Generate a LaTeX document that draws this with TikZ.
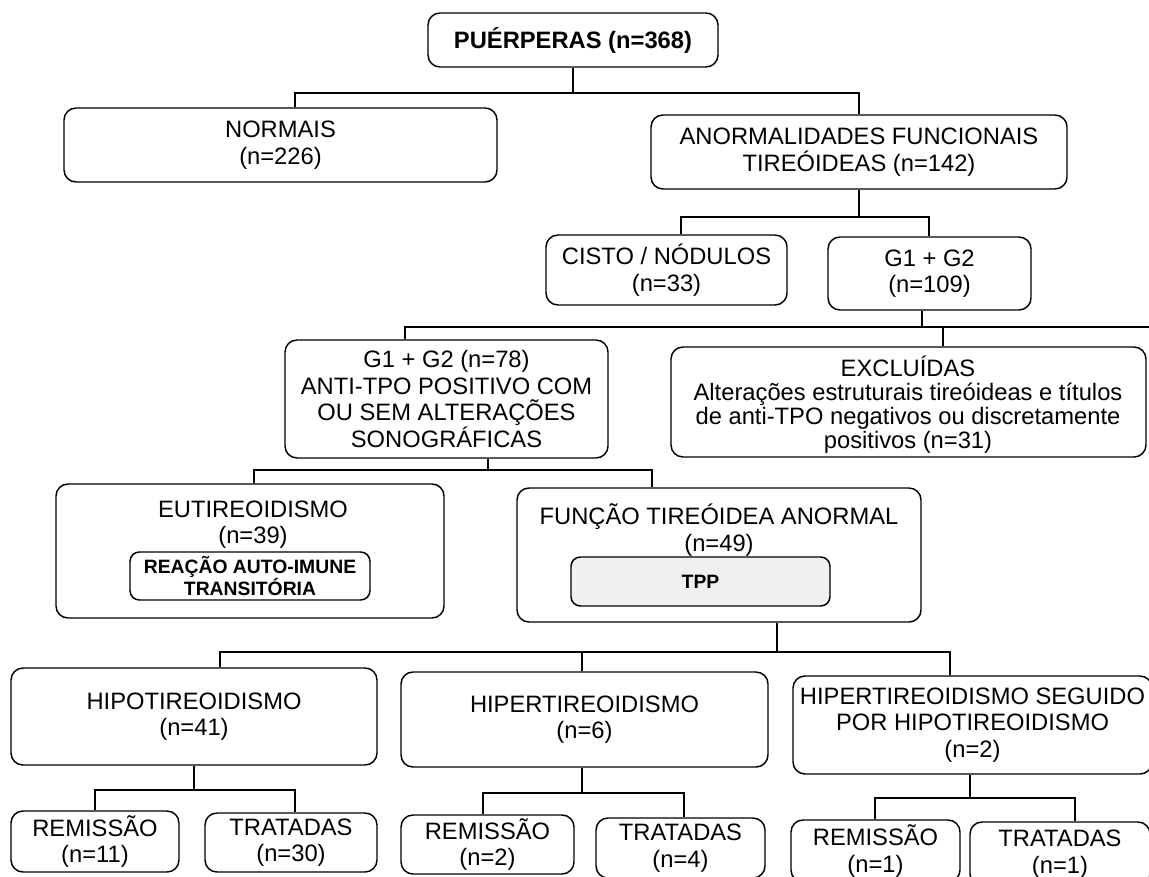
\documentclass[tikz,border=0pt]{standalone}
\usepackage{fontspec}
\setmainfont{Liberation Sans}
\usetikzlibrary{calc}
\newcommand\fs{\fontsize{17.8}{19.8}\selectfont}
\newcommand\fsx{\fontsize{17.8}{18}\selectfont}
\newcommand\fb{\fontsize{14.5}{16.5}\selectfont\bfseries}
\tikzset{
  box/.style={draw, line width=1.1pt, rounded corners=9pt, inner sep=0pt, align=center, font=\fs},
  lbl/.style={inner sep=0pt, align=center, font=\fs},
  conn/.style={line width=1.1pt},
}
\newcommand\bx[7][]{\node[box,#1, minimum width={(#5-#3)*0.75pt}, minimum height={(#6-#4)*0.75pt}] (#2) at ({(#3+#5)/2},{(#4+#6)/2}) {#7};}
\begin{document}
\begin{tikzpicture}[x=0.75pt,y=-0.75pt]
\useasboundingbox (0,0) rectangle (1149,877);
\clip (0,0) rectangle (1149,877);
% boxes
\bx{pue}{428}{13}{718}{67}{\bfseries PUÉRPERAS (n=368)}
\bx{nor}{64}{108}{497}{182}{NORMAIS\\(n=226)}
\bx{ano}{651}{115}{1067}{189}{ANORMALIDADES FUNCIONAIS\\TIREÓIDEAS (n=142)}
\bx{cis}{546}{235}{787}{305}{CISTO / NÓDULOS\\(n=33)}
\bx{g12}{828}{237}{1031}{310}{G1 + G2\\(n=109)}
\bx{g78}{285}{340}{608}{458}{G1 + G2 (n=78)\\ANTI-TPO POSITIVO COM\\OU SEM ALTERAÇÕES\\SONOGRÁFICAS}
\bx{exc}{671}{347}{1146}{457}{}
\node[lbl, font=\fsx] (exct) at (908,405) {EXCLUÍDAS\\Alterações estruturais tireóideas e títulos\\de anti-TPO negativos ou discretamente\\positivos (n=31)};
\bx{eut}{56}{484}{444}{618}{}
\node[lbl] (eutt) at (253,524.5) {EUTIREOIDISMO\\(n=39)};
\bx[font=\fb, rounded corners=7pt]{rea}{130}{552}{370}{600}{REAÇÃO AUTO-IMUNE\\TRANSITÓRIA}
\bx{fun}{517}{488}{921}{622}{}
\node[lbl] (funt) at (719,530) {FUNÇÃO TIREÓIDEA ANORMAL\\(n=49)};
\bx[font=\fb, fill=gray!12, rounded corners=7pt]{tpp}{571}{557}{830}{606}{TPP}
\bx{hipo}{11}{668}{377}{765}{HIPOTIREOIDISMO\\(n=41)}
\bx{hiper}{401}{672}{768}{767}{HIPERTIREOIDISMO\\(n=6)}
\bx{hs}{793}{676}{1152}{774}{HIPERTIREOIDISMO SEGUIDO\\POR HIPOTIREOIDISMO\\(n=2)}
\bx{ra}{11}{811}{179}{872}{REMISSÃO\\(n=11)}
\bx{ta}{205}{813}{377}{872}{TRATADAS\\(n=30)}
\bx{rb}{401}{815}{574}{874}{REMISSÃO\\(n=2)}
\bx{tb}{596}{818}{765}{878}{TRATADAS\\(n=4)}
\bx{rc}{791}{820}{960}{882}{REMISSÃO\\(n=1)}
\bx{tc}{970}{822}{1150}{886}{TRATADAS\\(n=1)}
% connectors
\coordinate (barR) at (1152,327);
\draw[conn] (pue.south) -- (pue.south |- 0,93);
\draw[conn] (nor.north -| 295,0) -- (295,93) -- (859,93) -- (ano.north -| 859,0);
\draw[conn] (ano.south) -- (ano.south |- 0,217);
\draw[conn] (cis.north -| 681,0) -- (681,217) -- (929,217) -- (g12.north -| 929,0);
\draw[conn] (g12.south -| 922,0) -- (922,327);
\draw[conn] (g78.north -| 405,0) -- (405,327) -- (barR);
\draw[conn] (943,327) -- (exc.north -| 943,0);
\draw[conn] (g78.south -| 488,0) -- (488,470);
\draw[conn] (eut.north -| 254,0) -- (254,470) -- (652,470) -- (fun.north -| 652,0);
\draw[conn] (fun.south -| 777,0) -- (777,652);
\draw[conn] (hipo.north -| 220,0) -- (220,652) -- (950,652) -- (hs.north -| 950,0);
\draw[conn] (582,652) -- (hiper.north -| 582,0);
\draw[conn] (hipo.south -| 194,0) -- (194,790);
\draw[conn] (ra.north -| 95,0) -- (95,790) -- (295,790) -- (ta.north -| 295,0);
\draw[conn] (hiper.south -| 582,0) -- (582,793);
\draw[conn] (rb.north -| 483,0) -- (483,793) -- (684,793) -- (tb.north -| 684,0);
\draw[conn] (hs.south -| 970,0) -- (970,798);
\draw[conn] (rc.north -| 875,0) -- (875,798) -- (1075,798) -- (tc.north -| 1075,0);
\end{tikzpicture}
\end{document}
